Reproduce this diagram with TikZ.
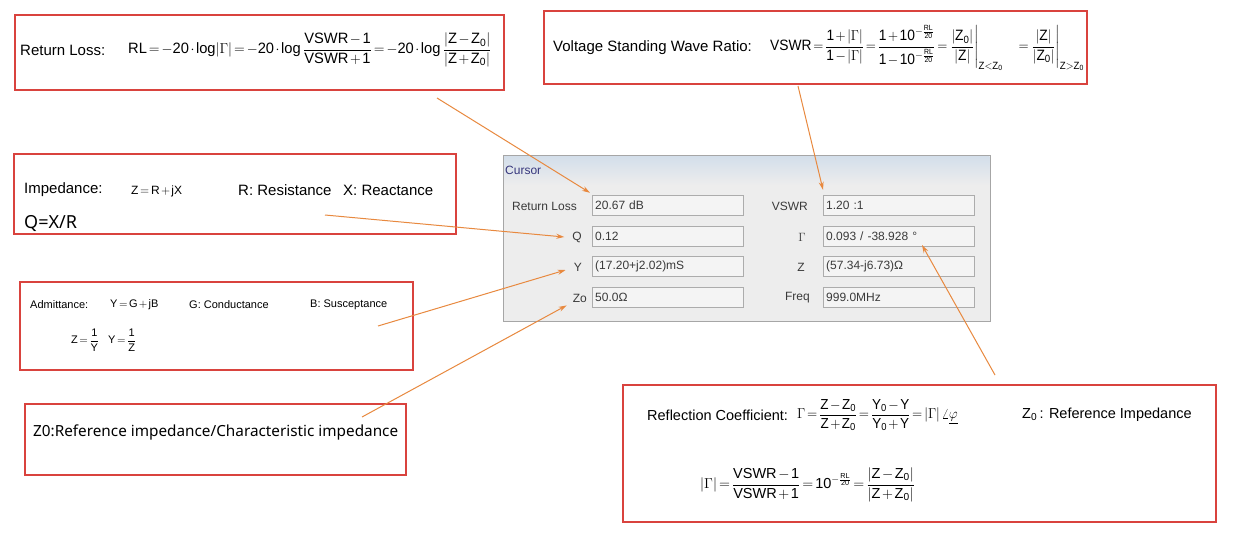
\documentclass[tikz,border=0pt]{standalone}
\usepackage{amsmath}
\usepackage{fontspec}
\setmainfont{Liberation Sans}
\newfontfamily\cnsans{Noto Sans}
\usetikzlibrary{arrows.meta,positioning}
\definecolor{boxred}{HTML}{D9433E}
\definecolor{calloutorange}{HTML}{E8893F}
\definecolor{winbg}{HTML}{EDEDED}
\definecolor{fieldbg}{HTML}{F4F4F4}
\definecolor{titleblue}{HTML}{D3DEEA}
\definecolor{wintext}{HTML}{3A3A3A}
\newcommand{\setfs}[1]{\fontsize{#1}{#1}\selectfont}
\newcommand{\R}[1]{\mathrm{#1}}
\newcommand{\Zo}{\R{Z}_{\R{0}}}
\newcommand{\Yo}{\R{Y}_{\R{0}}}
\newcommand{\abs}[1]{\lvert #1\rvert}
\newcommand{\rlexp}{\R{10}^{-\frac{\R{RL}}{\R{20}}}}
\newcommand{\deep}{\rule[-7pt]{0pt}{1pt}}
\thickmuskip=2.5mu plus 1mu
\medmuskip=2mu plus 1mu
\tikzset{
  redbox/.style={draw=boxred, line width=1.8pt, anchor=north west, inner sep=0pt},
  callout/.style={draw=calloutorange, line width=1pt, -{Stealth[length=8pt,width=5pt]}},
  txt/.style={anchor=west, inner sep=0pt},
  winlabel/.style={anchor=east, inner sep=0pt, text=wintext, font=\setfs{12}},
  field/.style={draw=gray!65, fill=fieldbg, anchor=west, inner xsep=3pt, inner ysep=0pt,
    text width=145pt, minimum height=20pt, align=left, text=wintext, font=\setfs{12}},
}
\begin{document}
\begin{tikzpicture}[x=1pt, y=-1pt]
\useasboundingbox[fill=white] (0,0) rectangle (1236,536);

% red boxes
\node[redbox, minimum width=489pt, minimum height=75pt] (rlbox) at (14,14) {};
\node[redbox, minimum width=543pt, minimum height=73pt] (vswrbox) at (543,10) {};
\node[redbox, minimum width=442pt, minimum height=80pt] (zbox) at (13,153) {};
\node[redbox, minimum width=393pt, minimum height=88pt] (ybox) at (19,281) {};
\node[redbox, minimum width=381pt, minimum height=71pt] (zobox) at (24,403) {};
\node[redbox, minimum width=593pt, minimum height=137pt] (gammabox) at (622,384) {};

\node[txt, font=\setfs{15}] (rllabel) at (20,50) {Return Loss:};
\node[txt, font=\setfs{15}] (rlformula) at (128,50)
  {\scalebox{0.98}[1]{$\R{RL}=-\R{20}\cdot\log\abs{\Gamma}=-\R{20}\cdot\log\dfrac{\R{VSWR}-\R{1}}{\R{VSWR}+\R{1}}=-\R{20}\cdot\log\dfrac{\abs{\R{Z}-\Zo}}{\abs{\R{Z}+\Zo}}$}};

\node[txt, font=\setfs{15}] (vswrlabel) at (553,48) {Voltage Standing Wave Ratio:};
\node[txt, font=\setfs{15}] (vswrformula) at (770,48)
  {\scalebox{0.92}[1]{$\R{VSWR}=\dfrac{\R{1}+\abs{\Gamma}}{\R{1}-\abs{\Gamma}}=\dfrac{\R{1}+\rlexp}{\R{1}-\rlexp}=\left.\dfrac{\abs{\Zo}}{\abs{\R{Z}}\deep}\right|_{\R{Z}<\Zo}\quad=\left.\dfrac{\abs{\R{Z}}}{\abs{\Zo}\deep}\right|_{\R{Z}>\Zo}$}};

\node[txt, font=\setfs{15}] (zlabel) at (24,190) {Impedance:};
\node[txt, font=\setfs{12}] (zformula) at (131,191) {$\R{Z}=\R{R}+\R{jX}$};
\node[txt, font=\setfs{15}] (rtext) at (238,190) {R: Resistance};
\node[txt, font=\setfs{15}] (xtext) at (343,190) {X: Reactance};
\node[txt, font=\cnsans\setfs{18}] (qtext) at (24,224) {Q=X/R};

\node[txt, font=\setfs{11}] (ylabel) at (30,305) {Admittance:};
\node[txt, font=\setfs{11}] (yformula) at (110,305) {$\R{Y}=\R{G}+\R{jB}$};
\node[txt, font=\setfs{11}] (gtext) at (189,305) {G: Conductance};
\node[txt, font=\setfs{11}] (btext) at (310,305) {B: Susceptance};
\node[txt, font=\setfs{11}] (zinv) at (71,340) {$\R{Z}=\dfrac{\R{1}}{\R{Y}}$};
\node[txt, font=\setfs{11}] (yinv) at (108,340) {$\R{Y}=\dfrac{\R{1}}{\R{Z}}$};

\node[txt, font=\cnsans\setfs{15.3}] (zotext) at (33,432) {Z0:Reference impedance/Characteristic impedance};

\node[txt, font=\setfs{14.5}] (gammalabel) at (647,415) {Reflection Coefficient:};
\node[txt, font=\setfs{14.5}] (gammaformula) at (797,415)
  {\scalebox{0.93}[1]{$\Gamma=\dfrac{\R{Z}-\Zo}{\R{Z}+\Zo}=\dfrac{\Yo-\R{Y}}{\Yo+\R{Y}}=\abs{\Gamma}\;\angle\underline{\varphi}$}};
\node[txt, font=\setfs{14.5}] (zotag) at (1022,415) {$\Zo$\,: Reference Impedance};
\node[txt, font=\setfs{14.5}] (gammamag) at (700,485)
  {$\abs{\Gamma}=\dfrac{\R{VSWR}-\R{1}}{\R{VSWR}+\R{1}}=\rlexp=\dfrac{\abs{\R{Z}-\Zo}}{\abs{\R{Z}+\Zo}}$};

% cursor window
\node[draw=gray!70, fill=winbg, anchor=north west, minimum width=487pt, minimum height=166pt, inner sep=0pt] (cursorwin) at (503,155) {};
\shade[top color=titleblue, bottom color=winbg] ([shift={(1pt,-1pt)}]cursorwin.north west) rectangle ([shift={(-1pt,-30pt)}]cursorwin.north east);
\node[txt, text=gray!60!blue!70!black, font=\setfs{12}] (wintitle) at (505,170) {Cursor};

\node[field] (rlval) at (592,205) {20.67 dB};
\node[field] (qval) at (592,236.5) {0.12};
\node[field] (yval) at (592,266.5) {(17.20+j2.02)mS};
\node[field] (zoval) at (592,297) {50.0Ω};
\node[field] (vswrval) at (823,205) {1.20 :1};
\node[field] (gval) at (823,236.5) {0.093 / -38.928 °};
\node[field] (zval) at (823,266.5) {(57.34-j6.73)Ω};
\node[field] (freqval) at (823,297) {999.0MHz};

\node[winlabel] (rlname) at (577,206) {Return Loss};
\node[winlabel] (qname) at (582,237) {Q};
\node[winlabel] (yname) at (582,267) {Y};
\node[winlabel] (zoname) at (587,298) {Zo};
\node[winlabel] (vswrname) at (808,206) {VSWR};
\node[winlabel] (gname) at (806,237) {$\Gamma$};
\node[winlabel] (zname) at (805,267) {Z};
\node[winlabel] (freqname) at (810,298) {Freq};

% callouts
\coordinate (rlfrom) at (437,98);
\coordinate (vswrfrom) at (798,86);
\coordinate (qfrom) at (325,215);
\coordinate (yfrom) at (378,326);
\coordinate (zofrom) at (362,417);
\coordinate (gfrom) at (995,375);
\coordinate (gto) at (922,245);
\draw[callout] (rlfrom) -- ([shift={(-2pt,2pt)}]rlval.north west);
\draw[callout] (vswrfrom) -- ([shift={(0pt,5pt)}]vswrval.north west);
\draw[callout] (qfrom) -- ([xshift=-8pt]qname.west);
\draw[callout] (yfrom) -- ([xshift=-8pt,yshift=-3pt]yname.west);
\draw[callout] (zofrom) -- ([xshift=-6pt,yshift=-3pt]zoname.south west);
\draw[callout] (gfrom) -- (gto);
\end{tikzpicture}
\end{document}
